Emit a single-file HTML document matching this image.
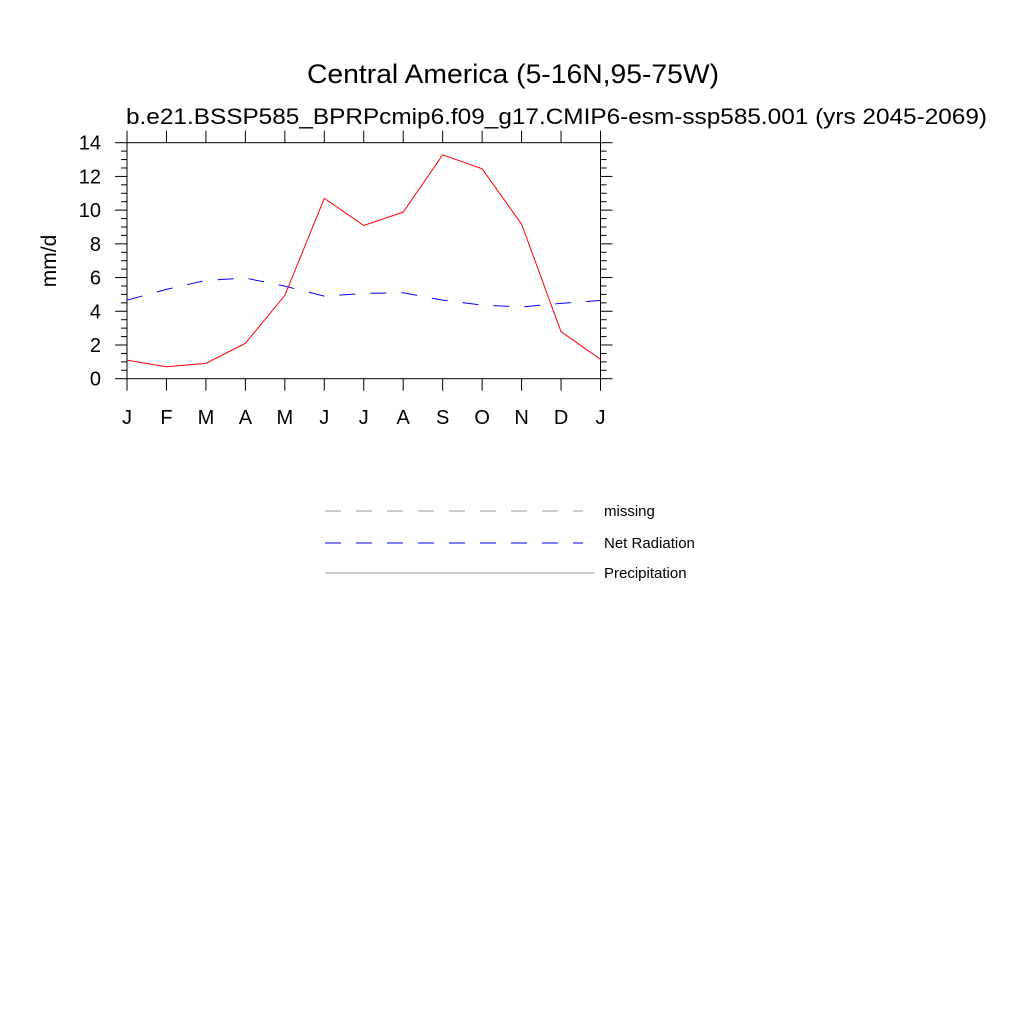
<!DOCTYPE html>
<html><head><meta charset="utf-8"><style>
body{margin:0;background:#fff;}
svg{display:block;font-family:"Liberation Sans",sans-serif;}
</style></head><body>
<svg id="chart" width="1024" height="1024" viewBox="0 0 1024 1024" xmlns="http://www.w3.org/2000/svg">
<rect width="1024" height="1024" fill="#fff"/>
<text x="307" y="83" font-size="27" textLength="412" lengthAdjust="spacingAndGlyphs">Central America (5-16N,95-75W)</text>
<text x="126" y="124" font-size="22" textLength="861" lengthAdjust="spacingAndGlyphs">b.e21.BSSP585_BPRPcmip6.f09_g17.CMIP6-esm-ssp585.001 (yrs 2045-2069)</text>
<text transform="translate(56,261) rotate(-90)" font-size="21" text-anchor="middle">mm/d</text>
<g id="axes"></g>
<g id="series"></g>
<g>
<line x1="325" y1="511" x2="583" y2="511" stroke="#999" stroke-width="1" stroke-dasharray="16,15"/>
<text x="604" y="516" font-size="15">missing</text>
<line x1="325" y1="543" x2="583" y2="543" stroke="#00f" stroke-width="1" stroke-dasharray="16,15"/>
<text x="604" y="548" font-size="15">Net Radiation</text>
<line x1="325" y1="573" x2="594" y2="573" stroke="#999" stroke-width="1"/>
<text x="604" y="578" font-size="15">Precipitation</text>
</g>
</svg>
<script>
const months = ["J","F","M","A","M","J","J","A","S","O","N","D","J"];
const precipitation = [1.1,0.71,0.91,2.1,4.94,10.7,9.09,9.88,13.28,12.45,9.17,2.79,1.15];
const netRadiation = [4.66,5.3,5.83,5.97,5.49,4.9,5.06,5.1,4.66,4.37,4.25,4.47,4.64];
const yTicks = [0,2,4,6,8,10,12,14];
const NS="http://www.w3.org/2000/svg";
const X0=127,X1=600.5,Y0=378.7,Y1=142.7,YMAX=14;
const xs=i=>X0+(X1-X0)*i/(months.length-1);
const ys=v=>Y0-(Y0-Y1)*v/YMAX;
const axes=document.getElementById('axes');
function mk(tag,attrs,parent){const e=document.createElementNS(NS,tag);for(const k in attrs)e.setAttribute(k,attrs[k]);parent.appendChild(e);return e;}
const frame=mk('rect',{x:X0,y:Y1,width:X1-X0,height:Y0-Y1,fill:'none',stroke:'#000','stroke-width':1},axes);


months.forEach((m,i)=>{
  const x=xs(i);
  const tb=mk('line',{x1:x,y1:Y0,x2:x,y2:Y0+12,stroke:'#000'},axes);
  
  
  const tt=mk('line',{x1:x,y1:Y1,x2:x,y2:Y1-12,stroke:'#000'},axes);
  
  
  const t=mk('text',{x:x,y:424,'font-size':20,'text-anchor':'middle'},axes);
  t.textContent=m;
  
  
});
for(let v=0;v<=YMAX+0.001;v+=0.5){
  const y=ys(v);const major=Math.abs(v%2)<0.001;const L=major?12:6;
  const a=mk('line',{x1:X0-L,y1:y,x2:X0,y2:y,stroke:'#000'},axes);
  
  
  const b=mk('line',{x1:X1,y1:y,x2:X1+L,y2:y,stroke:'#000'},axes);
  
  
}
yTicks.forEach(v=>{
  const t=mk('text',{x:101,y:ys(v)+7,'font-size':20,'text-anchor':'end'},axes);
  t.textContent=v;
  
  
});
const series=document.getElementById('series');
const pNet=mk('polyline',{points:netRadiation.map((v,i)=>xs(i)+','+ys(v)).join(' '),fill:'none',stroke:'#00f','stroke-width':1,'stroke-dasharray':'16,15'},series);


const pPr=mk('polyline',{points:precipitation.map((v,i)=>xs(i)+','+ys(v)).join(' '),fill:'none',stroke:'#f00','stroke-width':1},series);


</script>
</body></html>
